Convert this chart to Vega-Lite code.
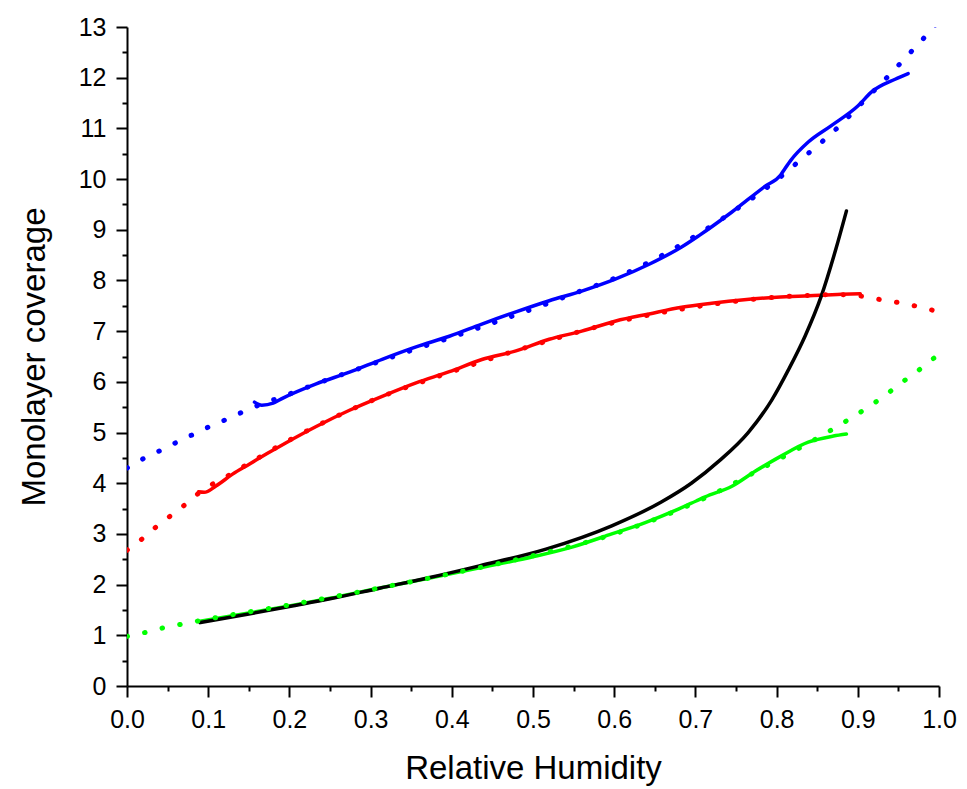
{
  "$schema": "https://vega.github.io/schema/vega-lite/v6.json",
  "width": 812,
  "height": 659,
  "autosize": {"type": "none"},
  "padding": {"left": 127, "top": 27, "right": 28, "bottom": 103},
  "background": "white",
  "config": {
    "view": {"stroke": null},
    "axis": {
      "grid": false,
      "domainColor": "black",
      "domainWidth": 2,
      "tickColor": "black",
      "tickWidth": 2,
      "labelColor": "black",
      "labelFont": "Liberation Sans",
      "labelFontSize": 25,
      "titleFont": "Liberation Sans",
      "titleFontSize": 33,
      "titleFontWeight": "normal",
      "titleColor": "black",
      "labelOverlap": false,
      "labelFlush": false,
      "labelBound": false
    }
  },
  "data": {
    "values": [
      {"s": "bf", "x": 0, "y": 4.3}, {"s": "bf", "x": 0.022, "y": 4.5}, {"s": "bf", "x": 0.043, "y": 4.66}, {"s": "bf", "x": 0.064, "y": 4.83}, {"s": "bf", "x": 0.085, "y": 4.99}, {"s": "bf", "x": 0.106, "y": 5.15}, {"s": "bf", "x": 0.127, "y": 5.29}, {"s": "bf", "x": 0.147, "y": 5.44}, {"s": "bf", "x": 0.2, "y": 5.76}, {"s": "bf", "x": 0.25, "y": 6.06}, {"s": "bf", "x": 0.3, "y": 6.34}, {"s": "bf", "x": 0.35, "y": 6.62}, {"s": "bf", "x": 0.4, "y": 6.88}, {"s": "bf", "x": 0.45, "y": 7.16}, {"s": "bf", "x": 0.5, "y": 7.44}, {"s": "bf", "x": 0.55, "y": 7.74}, {"s": "bf", "x": 0.6, "y": 8.04}, {"s": "bf", "x": 0.655, "y": 8.46}, {"s": "bf", "x": 0.7, "y": 8.88}, {"s": "bf", "x": 0.75, "y": 9.4}, {"s": "bf", "x": 0.8, "y": 9.98}, {"s": "bf", "x": 0.831, "y": 10.4}, {"s": "bf", "x": 0.866, "y": 10.88}, {"s": "bf", "x": 0.882, "y": 11.12}, {"s": "bf", "x": 0.9, "y": 11.42}, {"s": "bf", "x": 0.947, "y": 12.19}, {"s": "bf", "x": 0.962, "y": 12.45}, {"s": "bf", "x": 0.978, "y": 12.72}, {"s": "bf", "x": 0.993, "y": 13.0}, {"s": "bf", "x": 1.0, "y": 13.12},

      {"s": "bm", "x": 0.157, "y": 5.6}, {"s": "bm", "x": 0.166, "y": 5.54}, {"s": "bm", "x": 0.18, "y": 5.58}, {"s": "bm", "x": 0.192, "y": 5.68}, {"s": "bm", "x": 0.233, "y": 5.96}, {"s": "bm", "x": 0.274, "y": 6.19}, {"s": "bm", "x": 0.315, "y": 6.45}, {"s": "bm", "x": 0.356, "y": 6.69}, {"s": "bm", "x": 0.397, "y": 6.9}, {"s": "bm", "x": 0.437, "y": 7.14}, {"s": "bm", "x": 0.479, "y": 7.38}, {"s": "bm", "x": 0.52, "y": 7.6}, {"s": "bm", "x": 0.56, "y": 7.79}, {"s": "bm", "x": 0.602, "y": 8.03}, {"s": "bm", "x": 0.643, "y": 8.32}, {"s": "bm", "x": 0.683, "y": 8.66}, {"s": "bm", "x": 0.704, "y": 8.88}, {"s": "bm", "x": 0.745, "y": 9.35}, {"s": "bm", "x": 0.786, "y": 9.86}, {"s": "bm", "x": 0.805, "y": 10.08}, {"s": "bm", "x": 0.81, "y": 10.2}, {"s": "bm", "x": 0.817, "y": 10.36}, {"s": "bm", "x": 0.839, "y": 10.73}, {"s": "bm", "x": 0.867, "y": 11.05}, {"s": "bm", "x": 0.9, "y": 11.44}, {"s": "bm", "x": 0.917, "y": 11.72}, {"s": "bm", "x": 0.946, "y": 11.97}, {"s": "bm", "x": 0.962, "y": 12.08},

      {"s": "rm", "x": 0.088, "y": 3.83}, {"s": "rm", "x": 0.095, "y": 3.82}, {"s": "rm", "x": 0.11, "y": 3.95}, {"s": "rm", "x": 0.13, "y": 4.18}, {"s": "rm", "x": 0.151, "y": 4.38}, {"s": "rm", "x": 0.172, "y": 4.58}, {"s": "rm", "x": 0.196, "y": 4.8}, {"s": "rm", "x": 0.233, "y": 5.12}, {"s": "rm", "x": 0.274, "y": 5.44}, {"s": "rm", "x": 0.315, "y": 5.72}, {"s": "rm", "x": 0.356, "y": 5.98}, {"s": "rm", "x": 0.397, "y": 6.2}, {"s": "rm", "x": 0.437, "y": 6.44}, {"s": "rm", "x": 0.479, "y": 6.61}, {"s": "rm", "x": 0.52, "y": 6.84}, {"s": "rm", "x": 0.56, "y": 7.0}, {"s": "rm", "x": 0.602, "y": 7.2}, {"s": "rm", "x": 0.643, "y": 7.34}, {"s": "rm", "x": 0.683, "y": 7.47}, {"s": "rm", "x": 0.72, "y": 7.55}, {"s": "rm", "x": 0.76, "y": 7.62}, {"s": "rm", "x": 0.8, "y": 7.67}, {"s": "rm", "x": 0.84, "y": 7.7}, {"s": "rm", "x": 0.88, "y": 7.73}, {"s": "rm", "x": 0.903, "y": 7.74},

      {"s": "rf", "x": 0, "y": 2.68}, {"s": "rf", "x": 0.02, "y": 2.92}, {"s": "rf", "x": 0.036, "y": 3.14}, {"s": "rf", "x": 0.053, "y": 3.35}, {"s": "rf", "x": 0.071, "y": 3.57}, {"s": "rf", "x": 0.088, "y": 3.8}, {"s": "rf", "x": 0.13, "y": 4.2}, {"s": "rf", "x": 0.2, "y": 4.85}, {"s": "rf", "x": 0.3, "y": 5.62}, {"s": "rf", "x": 0.4, "y": 6.2}, {"s": "rf", "x": 0.5, "y": 6.72}, {"s": "rf", "x": 0.6, "y": 7.17}, {"s": "rf", "x": 0.7, "y": 7.48}, {"s": "rf", "x": 0.8, "y": 7.67}, {"s": "rf", "x": 0.88, "y": 7.72}, {"s": "rf", "x": 0.9, "y": 7.7}, {"s": "rf", "x": 0.932, "y": 7.61}, {"s": "rf", "x": 0.955, "y": 7.55}, {"s": "rf", "x": 0.978, "y": 7.47}, {"s": "rf", "x": 1.0, "y": 7.38},

      {"s": "gm", "x": 0.09, "y": 1.28}, {"s": "gm", "x": 0.15, "y": 1.44}, {"s": "gm", "x": 0.2, "y": 1.58}, {"s": "gm", "x": 0.25, "y": 1.73}, {"s": "gm", "x": 0.31, "y": 1.93}, {"s": "gm", "x": 0.37, "y": 2.12}, {"s": "gm", "x": 0.434, "y": 2.33}, {"s": "gm", "x": 0.5, "y": 2.55}, {"s": "gm", "x": 0.548, "y": 2.74}, {"s": "gm", "x": 0.597, "y": 3.0}, {"s": "gm", "x": 0.639, "y": 3.23}, {"s": "gm", "x": 0.679, "y": 3.49}, {"s": "gm", "x": 0.701, "y": 3.65}, {"s": "gm", "x": 0.712, "y": 3.73}, {"s": "gm", "x": 0.745, "y": 3.94}, {"s": "gm", "x": 0.774, "y": 4.24}, {"s": "gm", "x": 0.806, "y": 4.54}, {"s": "gm", "x": 0.839, "y": 4.81}, {"s": "gm", "x": 0.87, "y": 4.93}, {"s": "gm", "x": 0.886, "y": 4.97},

      {"s": "gf", "x": 0, "y": 0.98}, {"s": "gf", "x": 0.026, "y": 1.07}, {"s": "gf", "x": 0.048, "y": 1.16}, {"s": "gf", "x": 0.071, "y": 1.23}, {"s": "gf", "x": 0.09, "y": 1.29}, {"s": "gf", "x": 0.2, "y": 1.6}, {"s": "gf", "x": 0.3, "y": 1.9}, {"s": "gf", "x": 0.4, "y": 2.22}, {"s": "gf", "x": 0.5, "y": 2.57}, {"s": "gf", "x": 0.6, "y": 3.0}, {"s": "gf", "x": 0.7, "y": 3.62}, {"s": "gf", "x": 0.8, "y": 4.45}, {"s": "gf", "x": 0.86, "y": 4.98}, {"s": "gf", "x": 0.882, "y": 5.19}, {"s": "gf", "x": 0.9, "y": 5.37}, {"s": "gf", "x": 0.92, "y": 5.58}, {"s": "gf", "x": 0.939, "y": 5.8}, {"s": "gf", "x": 0.957, "y": 6.02}, {"s": "gf", "x": 0.975, "y": 6.23}, {"s": "gf", "x": 0.993, "y": 6.46}, {"s": "gf", "x": 1.0, "y": 6.53},

      {"s": "k", "x": 0.09, "y": 1.25}, {"s": "k", "x": 0.15, "y": 1.42}, {"s": "k", "x": 0.2, "y": 1.57}, {"s": "k", "x": 0.25, "y": 1.72}, {"s": "k", "x": 0.311, "y": 1.93}, {"s": "k", "x": 0.37, "y": 2.13}, {"s": "k", "x": 0.434, "y": 2.37}, {"s": "k", "x": 0.516, "y": 2.7}, {"s": "k", "x": 0.597, "y": 3.16}, {"s": "k", "x": 0.658, "y": 3.63}, {"s": "k", "x": 0.695, "y": 4.0}, {"s": "k", "x": 0.73, "y": 4.45}, {"s": "k", "x": 0.765, "y": 5.0}, {"s": "k", "x": 0.794, "y": 5.64}, {"s": "k", "x": 0.815, "y": 6.25}, {"s": "k", "x": 0.835, "y": 6.9}, {"s": "k", "x": 0.855, "y": 7.69}, {"s": "k", "x": 0.873, "y": 8.62}, {"s": "k", "x": 0.886, "y": 9.37}
    ]
  },
  "encoding": {
    "x": {
      "field": "x", "type": "quantitative",
      "scale": {"domain": [0, 1], "nice": false, "zero": false},
      "axis": {
        "title": "Relative Humidity",
        "values": [0, 0.05, 0.1, 0.15, 0.2, 0.25, 0.3, 0.35, 0.4, 0.45, 0.5, 0.55, 0.6, 0.65, 0.7, 0.75, 0.8, 0.85, 0.9, 0.95, 1.0],
        "labelExpr": "abs(datum.value*10 - round(datum.value*10)) < 0.001 ? format(datum.value, '.1f') : ''",
        "tickSize": {"condition": {"test": "abs(datum.value*10 - round(datum.value*10)) < 0.001", "value": 11}, "value": 5},
        "labelPadding": 10,
        "titlePadding": 20
      }
    },
    "y": {
      "field": "y", "type": "quantitative",
      "scale": {"domain": [0, 13], "nice": false, "zero": false},
      "axis": {
        "title": "Monolayer coverage",
        "values": [0, 0.5, 1, 1.5, 2, 2.5, 3, 3.5, 4, 4.5, 5, 5.5, 6, 6.5, 7, 7.5, 8, 8.5, 9, 9.5, 10, 10.5, 11, 11.5, 12, 12.5, 13],
        "labelExpr": "datum.value % 1 == 0 ? format(datum.value, 'd') : ''",
        "tickSize": {"condition": {"test": "datum.value % 1 == 0", "value": 11}, "value": 5},
        "labelPadding": 10,
        "titlePadding": 27
      }
    },
    "color": {
      "field": "s", "type": "nominal", "legend": null,
      "scale": {"domain": ["bm", "bf", "rm", "rf", "gm", "gf", "k"], "range": ["#0000ff", "#0000ff", "#ff0000", "#ff0000", "#00ff00", "#00ff00", "#000000"]}
    },
    "detail": {"field": "s"}
  },
  "layer": [
    {
      "transform": [{"filter": "datum.s === 'bm' || datum.s === 'rm' || datum.s === 'gm'"}],
      "mark": {"type": "line", "strokeWidth": 3.5, "clip": true, "strokeJoin": "round", "strokeCap": "round", "interpolate": "monotone"}
    },
    {
      "transform": [{"filter": "datum.s === 'k'"}],
      "mark": {"type": "line", "strokeWidth": 3.5, "clip": true, "strokeCap": "round", "interpolate": "monotone"}
    },
    {
      "transform": [{"filter": "datum.s === 'bf' || datum.s === 'rf' || datum.s === 'gf'"}],
      "mark": {"type": "line", "strokeWidth": 5, "strokeDash": [0.5, 17.5], "strokeCap": "round", "clip": true, "interpolate": "monotone"}
    }
  ]
}
